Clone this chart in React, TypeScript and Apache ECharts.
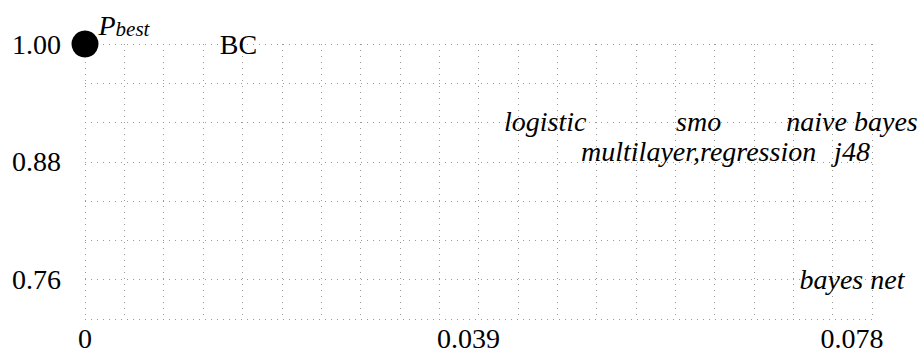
import React, { useEffect, useRef } from "react";
import * as echarts from "echarts";

// Data
const classifiers = ["logistic", "smo", "naive bayes", "multilayer,regression", "j48", "bayes net"];
const fpRate = [0.0468, 0.0624, 0.078, 0.0624, 0.078, 0.078];
const precision = [0.921, 0.921, 0.921, 0.891, 0.891, 0.76];

const bestPoint = [0, 1.0];
const datasetName = "BC";
const datasetLabelPos = [0.0156, 1.0];

const xTickLabels = [0, 0.039, 0.078];
const yTickLabels = [0.76, 0.88, 1.0];

const X_MIN = 0;
const X_MAX = 0.078;
const X_STEP = 0.0039;
const Y_MIN = 0.72;
const Y_MAX = 1.0;
const Y_STEP = 0.04;

const FONT = "'Liberation Serif', 'Times New Roman', Times, serif";

export default function App() {
  const ref = useRef<HTMLDivElement>(null);

  useEffect(() => {
    document.body.style.margin = "0";
    if (!ref.current) return;
    const chart = echarts.init(ref.current, undefined, { renderer: "svg" });

    const gridLeft = 85;
    const gridRight = 52;
    const plotWidth = 924 - gridLeft - gridRight; // 787
    // label / text layer is drawn on a slightly wider scale (as in the source plot)
    const labelAxisMax = (X_MAX * plotWidth) / (plotWidth - 20);

    const dotted = { type: [1, 5] as any, color: "#9a9a9a", width: 1 };

    const option: any = {
      animation: false,
      backgroundColor: "#fff",
      textStyle: { fontFamily: FONT, color: "#000" },
      grid: { left: gridLeft, right: gridRight, top: 44, bottom: 34, containLabel: false },
      xAxis: [
        {
          type: "value",
          min: X_MIN,
          max: X_MAX,
          interval: X_STEP,
          axisLine: { show: false },
          axisTick: { show: false },
          axisLabel: { show: false },
          splitLine: { show: true, lineStyle: dotted },
        },
        {
          type: "value",
          position: "bottom",
          min: X_MIN,
          max: labelAxisMax,
          axisLine: { show: false },
          axisTick: { show: false },
          splitLine: { show: false },
          axisLabel: {
            show: true,
            customValues: xTickLabels,
            formatter: (v: number) => (Math.abs(v) < 1e-9 ? "0" : v.toFixed(3)),
            fontFamily: FONT,
            fontSize: 28,
            color: "#000",
            margin: 5,
          },
        },
      ],
      yAxis: {
        type: "value",
        min: Y_MIN,
        max: Y_MAX,
        interval: Y_STEP,
        axisLine: { show: false },
        axisTick: { show: false },
        splitLine: { show: true, lineStyle: dotted },
        axisLabel: {
          fontFamily: FONT,
          fontSize: 28,
          color: "#000",
          margin: 24,
          formatter: (v: number) =>
            yTickLabels.some((t) => Math.abs(t - v) < 1e-6) ? v.toFixed(2) : "",
        },
      },
      series: [
        {
          type: "scatter",
          xAxisIndex: 1,
          symbolSize: 1,
          itemStyle: { color: "rgba(0,0,0,0)", opacity: 1 },
          data: classifiers.map((name, i) => ({ name, value: [fpRate[i], precision[i]] })),
          label: {
            show: true,
            position: "inside",
            formatter: (p: any) => p.name,
            fontFamily: FONT,
            fontSize: 28,
            lineHeight: 26,
            fontStyle: "italic",
            color: "#000",
            opacity: 1,
          },
          z: 5,
        },
        {
          type: "scatter",
          xAxisIndex: 1,
          symbolSize: 1,
          itemStyle: { color: "rgba(0,0,0,0)", opacity: 1 },
          data: [{ name: datasetName, value: datasetLabelPos }],
          label: {
            show: true,
            position: "inside",
            formatter: (p: any) => p.name,
            fontFamily: FONT,
            fontSize: 28,
            color: "#000",
            opacity: 1,
          },
        },
        {
          type: "scatter",
          xAxisIndex: 0,
          symbol: "circle",
          symbolSize: 27,
          itemStyle: { color: "#000", opacity: 1 },
          data: [{ name: "P_best", value: bestPoint }],
          label: {
            show: true,
            position: "right",
            distance: 0,
            offset: [0, -19],
            opacity: 1,
            formatter: () => "{p|P}{s|best}",
            rich: {
              p: { fontFamily: FONT, fontSize: 28, fontStyle: "italic", color: "#000", lineHeight: 28, verticalAlign: "top" },
              s: {
                fontFamily: FONT,
                fontSize: 21,
                fontStyle: "italic",
                color: "#000",
                lineHeight: 21,
                verticalAlign: "bottom",
                padding: [10, 0, 0, 0],
              },
            },
          },
          z: 10,
        },
      ],
    };

    chart.setOption(option);
    return () => chart.dispose();
  }, []);

  return <div ref={ref} style={{ width: 924, height: 353 }} />;
}
